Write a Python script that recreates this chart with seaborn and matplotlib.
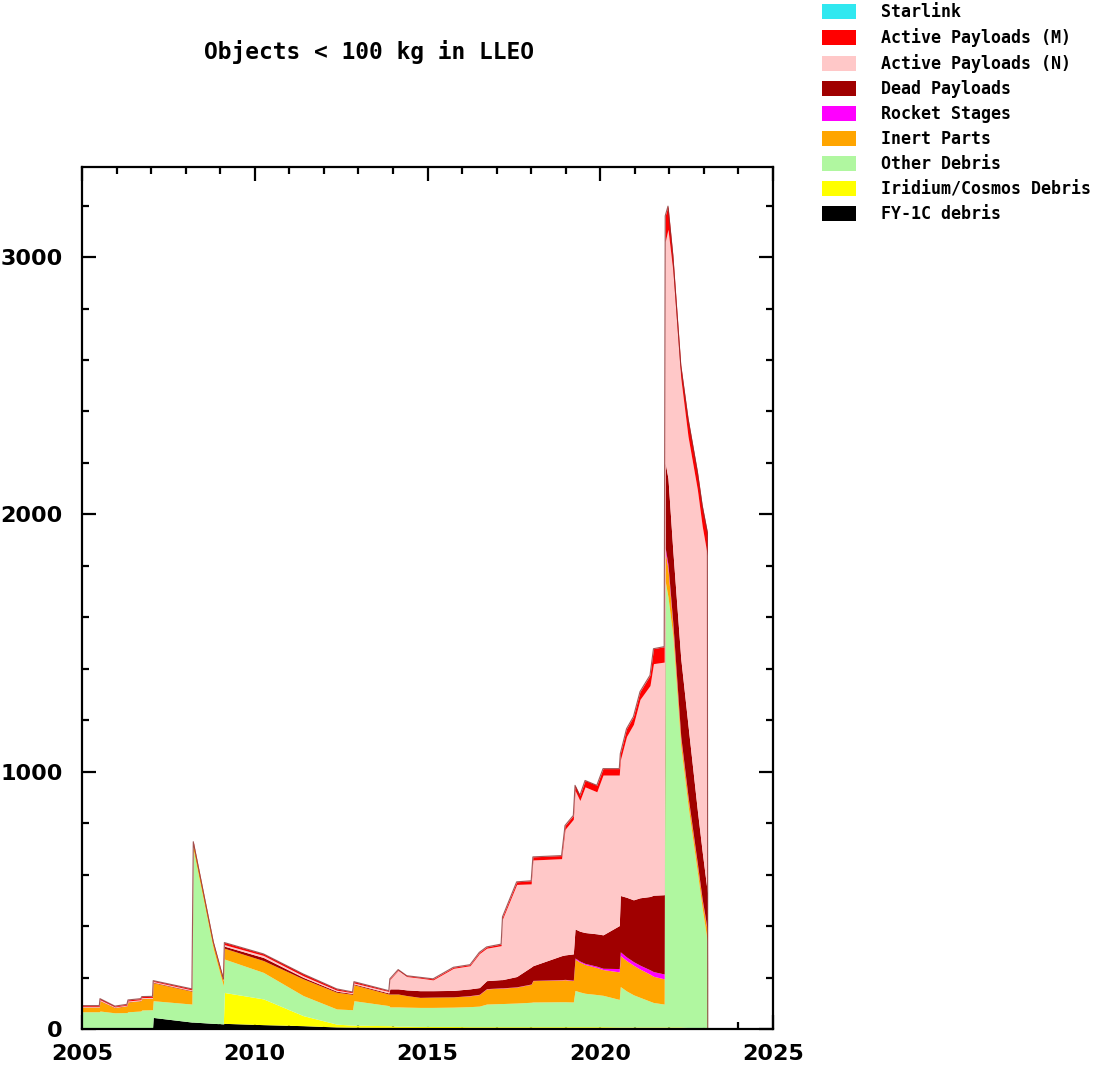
#!/usr/bin/env python3
# small objects (< 100 kg) in low LEO, stacked by object class

import numpy as np
import pandas as pd
import matplotlib

matplotlib.use("Agg")
import matplotlib.pyplot as plt
from matplotlib.patches import Patch
import seaborn as sns

# time of each sample (decimal year), duplicates-free so jumps are near vertical
YEARS = [
    2005.00, 2005.50, 2005.52, 2005.95, 2006.30, 2006.33, 2006.70, 2006.73,
    2007.04, 2007.06, 2008.18, 2008.22, 2008.80, 2009.09, 2009.12, 2010.25,
    2011.40, 2012.37, 2012.83, 2012.87, 2013.88, 2013.91, 2014.15, 2014.40,
    2014.78, 2015.16, 2015.75, 2016.23, 2016.50, 2016.71, 2017.13, 2017.17,
    2017.58, 2018.00, 2018.05, 2018.88, 2018.98, 2019.22, 2019.27, 2019.41,
    2019.56, 2019.90, 2020.08, 2020.55, 2020.58, 2020.76, 2020.96, 2021.15,
    2021.44, 2021.54, 2021.85, 2021.88, 2021.96, 2022.10, 2022.33, 2022.54,
    2022.81, 2022.95, 2023.10, 2023.11,
]

# counts per class (layer thickness), bottom of the stack first
FY1C = [
    0, 0, 0, 0, 0, 0, 0, 0, 0, 45, 27, 27, 22, 20, 22, 17,
    13, 8, 7, 7, 6, 6, 5, 5, 5, 5, 5, 4, 4, 4, 4, 4,
    4, 4, 4, 4, 4, 4, 4, 4, 4, 4, 4, 3, 3, 3, 3, 3,
    3, 3, 3, 3, 3, 3, 3, 2, 2, 2, 2, 0,
]
IRIDIUM_COSMOS = [
    0, 0, 0, 0, 0, 0, 0, 0, 0, 0, 0, 0, 0, 0, 120, 100,
    39, 11, 8, 8, 7, 7, 6, 6, 5, 5, 5, 5, 5, 5, 5, 5,
    5, 5, 5, 5, 5, 5, 5, 5, 5, 5, 5, 5, 5, 5, 5, 5,
    5, 5, 5, 5, 5, 5, 5, 4, 4, 4, 4, 0,
]
OTHER_DEBRIS = [
    67, 67, 70, 63, 64, 67, 70, 74, 75, 65, 70, 670, 289, 148, 130, 103,
    78, 59, 60, 95, 78, 73, 75, 74, 74, 74, 75, 78, 80, 88, 90, 90,
    92, 95, 96, 97, 97, 96, 141, 135, 130, 125, 122, 107, 157, 140, 125, 115,
    100, 95, 89, 1732, 1672, 1522, 1092, 863, 604, 464, 334, 0,
]
INERT_PARTS = [
    18, 18, 40, 20, 26, 38, 40, 44, 44, 70, 50, 22, 18, 18, 42, 46,
    65, 65, 60, 62, 45, 50, 50, 45, 39, 40, 40, 42, 45, 59, 60, 60,
    62, 70, 83, 85, 86, 83, 122, 116, 112, 105, 100, 107, 120, 118, 115, 110,
    105, 102, 98, 115, 110, 40, 30, 31, 30, 30, 40, 0,
]
ROCKET_STAGES = [
    0, 0, 0, 0, 0, 0, 0, 0, 0, 0, 0, 0, 0, 0, 0, 0,
    0, 0, 0, 0, 0, 0, 0, 0, 0, 0, 0, 1, 1, 1, 1, 1,
    1, 1, 1, 1, 1, 2, 4, 4, 4, 5, 5, 13, 15, 14, 14, 15,
    17, 18, 19, 15, 15, 10, 7, 5, 5, 5, 5, 0,
]
DEAD_PAYLOADS = [
    1, 1, 1, 1, 1, 1, 1, 1, 1, 2, 2, 1, 1, 1, 8, 12,
    6, 4, 3, 3, 4, 20, 20, 22, 26, 25, 25, 26, 26, 31, 32, 32,
    40, 66, 57, 93, 95, 102, 113, 116, 120, 126, 130, 167, 219, 232, 240, 262,
    285, 297, 308, 330, 335, 280, 303, 275, 205, 185, 145, 0,
]
ACTIVE_N = [
    2, 2, 3, 2, 2, 3, 3, 3, 3, 3, 3, 3, 3, 3, 6, 8,
    6, 4, 3, 4, 6, 36, 72, 52, 49, 42, 86, 90, 132, 126, 132, 236,
    358, 323, 411, 377, 488, 523, 538, 508, 566, 552, 621, 585, 526, 625, 682, 771,
    820, 900, 904, 860, 968, 1088, 1090, 1123, 1247, 1265, 1310, 0,
]
ACTIVE_M = [
    3, 3, 4, 3, 3, 4, 4, 4, 4, 3, 4, 5, 5, 5, 8, 6,
    7, 5, 3, 5, 3, 3, 3, 3, 3, 4, 4, 4, 5, 5, 6, 8,
    10, 12, 12, 12, 15, 15, 20, 20, 25, 25, 25, 25, 25, 30, 30, 30,
    40, 58, 60, 100, 90, 60, 50, 70, 70, 80, 90, 0,
]
STARLINK = [0] * len(YEARS)

LABELS = [
    "FY-1C debris",
    "Iridium/Cosmos Debris",
    "Other Debris",
    "Inert Parts",
    "Rocket Stages",
    "Dead Payloads",
    "Active Payloads (N)",
    "Active Payloads (M)",
    "Starlink",
]
COLORS = [
    "#000000",
    "#ffff00",
    "#b0f7a0",
    "#ffa500",
    "#ff00ff",
    "#a00000",
    "#ffc8c8",
    "#ff0000",
    "#30e8f0",
]


def main():
    sns.set_style("ticks")
    plt.rcParams["font.family"] = ["DejaVu Sans"]
    plt.rcParams["text.color"] = "black"

    fig = plt.figure(figsize=(11.01, 10.68), dpi=100)
    ax = fig.add_axes([0.0745, 0.0365, 0.6276, 0.8071])

    layers = [FY1C, IRIDIUM_COSMOS, OTHER_DEBRIS, INERT_PARTS, ROCKET_STAGES,
              DEAD_PAYLOADS, ACTIVE_N, ACTIVE_M, STARLINK]
    ax.stackplot(YEARS, *layers, colors=COLORS, linewidth=0)

    # thin dark outline on top of the stack
    df = pd.DataFrame({"year": YEARS, "total": np.sum(layers, axis=0)})
    sns.lineplot(data=df, x="year", y="total", ax=ax, color="#8a3030",
                 linewidth=0.8, alpha=0.8, sort=False, estimator=None)

    ax.set_xlim(2005, 2025)
    ax.set_ylim(0, 3350)
    ax.set_xticks([2005, 2010, 2015, 2020, 2025])
    ax.set_xticks(range(2005, 2026), minor=True)
    ax.set_yticks([0, 1000, 2000, 3000])
    ax.set_yticks(range(0, 3350, 200), minor=True)
    ax.set_xlabel("")
    ax.set_ylabel("")

    for side in ["left", "right", "top", "bottom"]:
        ax.spines[side].set_visible(True)
        ax.spines[side].set_linewidth(1.6)
        ax.spines[side].set_color("black")
        ax.spines[side].set_zorder(5)

    ax.tick_params(which="both", direction="in", top=True, right=True,
                   width=1.6, color="black", labelcolor="black")
    ax.tick_params(which="major", length=10, labelsize=16)
    ax.tick_params(which="minor", length=5)
    ax.tick_params(axis="y", pad=14)
    ax.tick_params(axis="x", pad=11)
    for lab in ax.get_xticklabels() + ax.get_yticklabels():
        lab.set_fontweight("bold")

    fig.text(0.335, 0.951, "Objects < 100 kg in LLEO", ha="center", va="center",
             fontsize=16.5, fontweight="bold", color="black",
             family=["DejaVu Sans Mono"])

    # legend, top entry first
    handles = [Patch(facecolor=c, edgecolor="none") for c in COLORS[::-1]]
    fig.legend(handles, LABELS[::-1], loc="upper left",
               bbox_to_anchor=(0.747, 0.997), frameon=False,
               prop={"family": "DejaVu Sans Mono", "weight": "bold", "size": 12},
               labelcolor="black",
               handlelength=2.0, handleheight=0.95, handletextpad=1.5,
               labelspacing=0.42, borderpad=0, borderaxespad=0)

    fig.savefig("out.png", dpi=100, facecolor="white")


if __name__ == "__main__":
    main()
